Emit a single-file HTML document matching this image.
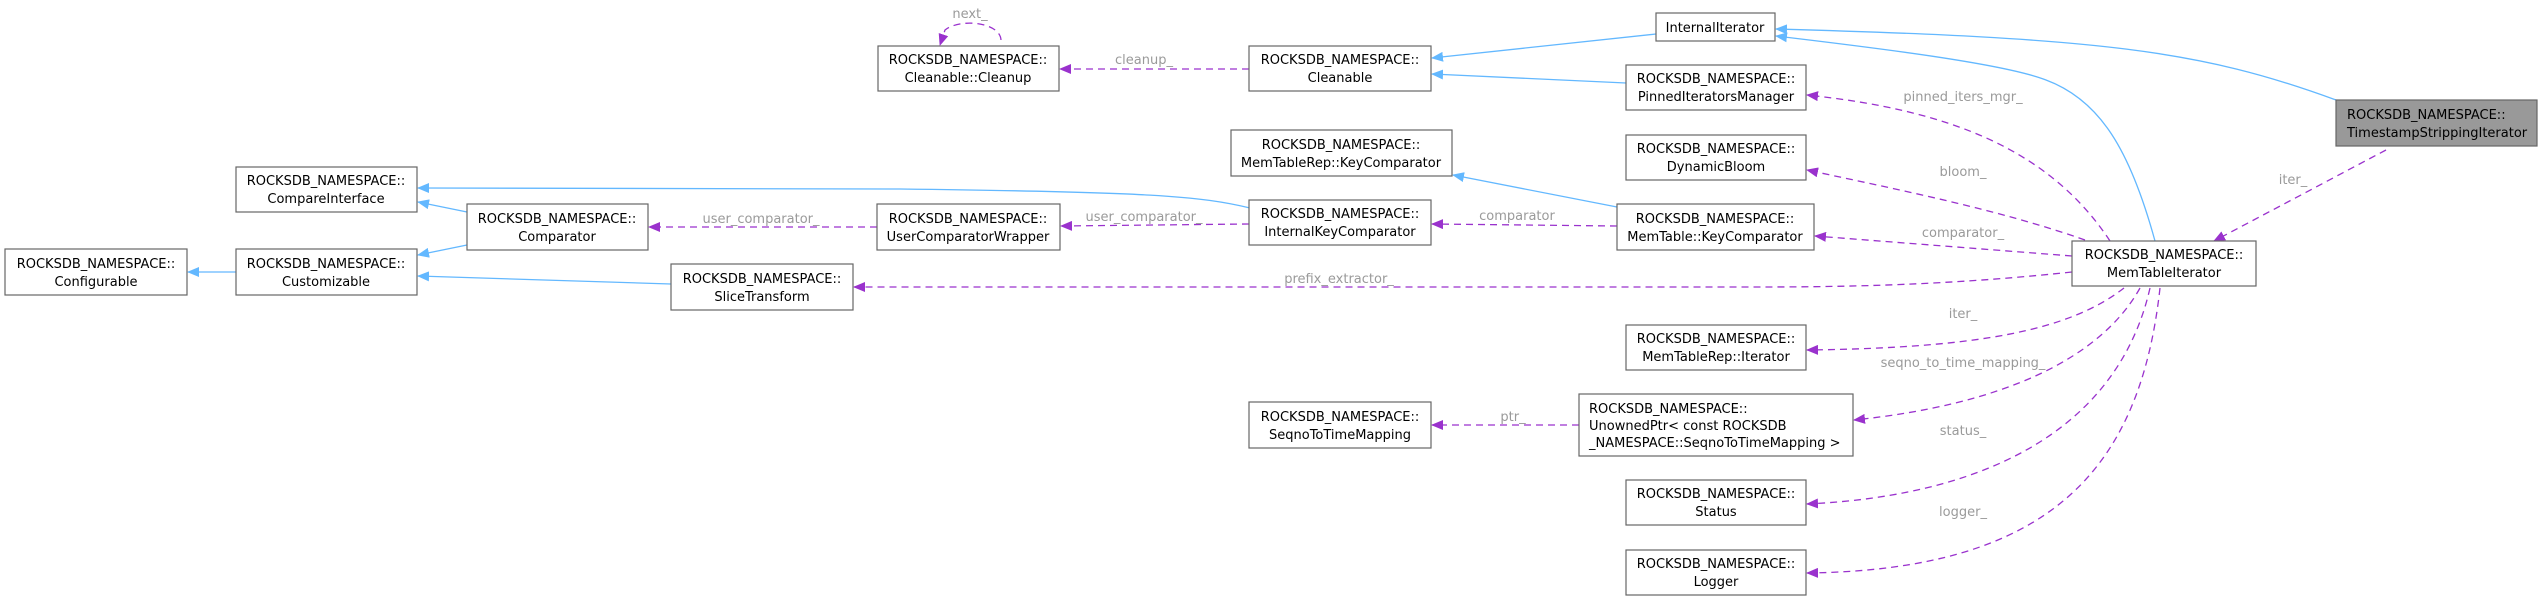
<!DOCTYPE html>
<html><head><meta charset="utf-8"><style>
html,body{margin:0;padding:0;background:#fff}
svg{display:block}
text{font-family:"DejaVu Sans","Liberation Sans",sans-serif;font-size:13px;fill:#000}
.l{fill:#9a9a9a;font-size:13px}
.b{fill:#fff;stroke:#666;stroke-width:1.2}
.i{fill:none;stroke:#63b8ff;stroke-width:1.3}
.d{fill:none;stroke:#9a32cd;stroke-width:1.3;stroke-dasharray:7,5}
</style></head><body>
<svg width="2540" height="598" viewBox="0 0 2540 598" xmlns="http://www.w3.org/2000/svg">
<defs>
<marker id="ab" markerWidth="12" markerHeight="10" refX="11" refY="5" orient="auto" markerUnits="userSpaceOnUse"><path d="M0,0 L12,5 L0,10 z" fill="#63b8ff"/></marker>
<marker id="ap" markerWidth="12" markerHeight="10" refX="11" refY="5" orient="auto" markerUnits="userSpaceOnUse"><path d="M0,0 L12,5 L0,10 z" fill="#9a32cd"/></marker>
</defs>
<!-- blue edges -->
<path class="i" marker-end="url(#ab)" d="M236,272 L188,272"/>
<path class="i" marker-end="url(#ab)" d="M467,212 L418,202"/>
<path class="i" marker-end="url(#ab)" d="M467,245 L418,255"/>
<path class="i" marker-end="url(#ab)" d="M671,284 L418,276"/>
<path class="i" marker-end="url(#ab)" d="M1250,208 C1200,196 1150,192 900,189 L418,188"/>
<path class="i" marker-end="url(#ab)" d="M1656,34 L1432,58"/>
<path class="i" marker-end="url(#ab)" d="M1626,83 L1432,74"/>
<path class="i" marker-end="url(#ab)" d="M1617,207 L1453,175"/>
<path class="i" marker-end="url(#ab)" d="M2155,241 C2130,150 2100,100 2046,80 C2000,62 1850,45 1776,36"/>
<path class="i" marker-end="url(#ab)" d="M2336,100 C2200,50 2100,38 1776,29"/>
<!-- purple edges -->
<path class="d" marker-end="url(#ap)" d="M1249,69 L1060,69"/>
<path class="d" marker-end="url(#ap)" d="M1001,40 C1000,22 960,18 945,30 L940,45"/>
<path class="d" marker-end="url(#ap)" d="M877,227 L649,227"/>
<path class="d" marker-end="url(#ap)" d="M1249,224 L1061,226"/>
<path class="d" marker-end="url(#ap)" d="M1617,226 L1432,224"/>
<path class="d" marker-end="url(#ap)" d="M2072,272 C1950,285 1850,287 1756,287 L854,287"/>
<path class="d" marker-end="url(#ap)" d="M2072,256 L1815,236"/>
<path class="d" marker-end="url(#ap)" d="M2085,240 C2000,210 1900,190 1807,170"/>
<path class="d" marker-end="url(#ap)" d="M2110,241 C2050,150 1950,110 1807,95"/>
<path class="d" marker-end="url(#ap)" d="M2386,150 L2214,241"/>
<path class="d" marker-end="url(#ap)" d="M2124,288 C2070,330 1980,348 1807,350"/>
<path class="d" marker-end="url(#ap)" d="M2140,288 C2100,360 2000,405 1854,420"/>
<path class="d" marker-end="url(#ap)" d="M1579,425 L1432,425"/>
<path class="d" marker-end="url(#ap)" d="M2150,288 C2120,420 2000,495 1807,504"/>
<path class="d" marker-end="url(#ap)" d="M2160,288 C2140,470 2050,570 1807,573"/>
<!-- labels -->
<g class="l" text-anchor="middle">
<text class="l" x="970" y="18">next_</text>
<text class="l" x="1144" y="64">cleanup_</text>
<text class="l" x="761" y="223">user_comparator_</text>
<text class="l" x="1144" y="221">user_comparator_</text>
<text class="l" x="1339" y="283">prefix_extractor_</text>
<text class="l" x="1517" y="220">comparator</text>
<text class="l" x="1963" y="101">pinned_iters_mgr_</text>
<text class="l" x="1963" y="176">bloom_</text>
<text class="l" x="1963" y="237">comparator_</text>
<text class="l" x="2293" y="184">iter_</text>
<text class="l" x="1963" y="318">iter_</text>
<text class="l" x="1963" y="367">seqno_to_time_mapping_</text>
<text class="l" x="1513" y="421">ptr_</text>
<text class="l" x="1963" y="435">status_</text>
<text class="l" x="1963" y="516">logger_</text>
</g>
<!-- boxes -->
<g text-anchor="middle">
<rect class="b" x="5" y="249" width="182" height="46"/><text x="96" y="268">ROCKSDB_NAMESPACE::</text><text x="96" y="286">Configurable</text>
<rect class="b" x="236" y="249" width="181" height="46"/><text x="326" y="268">ROCKSDB_NAMESPACE::</text><text x="326" y="286">Customizable</text>
<rect class="b" x="236" y="167" width="181" height="45"/><text x="326" y="185">ROCKSDB_NAMESPACE::</text><text x="326" y="203">CompareInterface</text>
<rect class="b" x="467" y="204" width="181" height="46"/><text x="557" y="223">ROCKSDB_NAMESPACE::</text><text x="557" y="241">Comparator</text>
<rect class="b" x="877" y="204" width="183" height="46"/><text x="968" y="223">ROCKSDB_NAMESPACE::</text><text x="968" y="241">UserComparatorWrapper</text>
<rect class="b" x="671" y="264" width="182" height="46"/><text x="762" y="283">ROCKSDB_NAMESPACE::</text><text x="762" y="301">SliceTransform</text>
<rect class="b" x="878" y="46" width="181" height="45"/><text x="968" y="64">ROCKSDB_NAMESPACE::</text><text x="968" y="82">Cleanable::Cleanup</text>
<rect class="b" x="1249" y="46" width="182" height="45"/><text x="1340" y="64">ROCKSDB_NAMESPACE::</text><text x="1340" y="82">Cleanable</text>
<rect class="b" x="1231" y="130" width="221" height="46"/><text x="1341" y="149">ROCKSDB_NAMESPACE::</text><text x="1341" y="167">MemTableRep::KeyComparator</text>
<rect class="b" x="1249" y="200" width="182" height="45"/><text x="1340" y="218">ROCKSDB_NAMESPACE::</text><text x="1340" y="236">InternalKeyComparator</text>
<rect class="b" x="1249" y="402" width="182" height="46"/><text x="1340" y="421">ROCKSDB_NAMESPACE::</text><text x="1340" y="439">SeqnoToTimeMapping</text>
<rect class="b" x="1656" y="13" width="119" height="28"/><text x="1715" y="32">InternalIterator</text>
<rect class="b" x="1626" y="65" width="180" height="45"/><text x="1716" y="83">ROCKSDB_NAMESPACE::</text><text x="1716" y="101">PinnedIteratorsManager</text>
<rect class="b" x="1626" y="135" width="180" height="45"/><text x="1716" y="153">ROCKSDB_NAMESPACE::</text><text x="1716" y="171">DynamicBloom</text>
<rect class="b" x="1617" y="204" width="197" height="46"/><text x="1715" y="223">ROCKSDB_NAMESPACE::</text><text x="1715" y="241">MemTable::KeyComparator</text>
<rect class="b" x="1626" y="325" width="180" height="45"/><text x="1716" y="343">ROCKSDB_NAMESPACE::</text><text x="1716" y="361">MemTableRep::Iterator</text>
<rect class="b" x="1579" y="394" width="274" height="62"/>
<text x="1589" y="413" text-anchor="start">ROCKSDB_NAMESPACE::</text><text x="1589" y="430" text-anchor="start">UnownedPtr&lt; const ROCKSDB</text><text x="1589" y="447" text-anchor="start">_NAMESPACE::SeqnoToTimeMapping &gt;</text>
<rect class="b" x="1626" y="480" width="180" height="45"/><text x="1716" y="498">ROCKSDB_NAMESPACE::</text><text x="1716" y="516">Status</text>
<rect class="b" x="1626" y="550" width="180" height="45"/><text x="1716" y="568">ROCKSDB_NAMESPACE::</text><text x="1716" y="586">Logger</text>
<rect class="b" x="2072" y="241" width="184" height="45"/><text x="2164" y="259">ROCKSDB_NAMESPACE::</text><text x="2164" y="277">MemTableIterator</text>
<rect x="2336" y="100" width="201" height="46" fill="#999" stroke="#666" stroke-width="1.2"/><text x="2347" y="119" text-anchor="start">ROCKSDB_NAMESPACE::</text><text x="2347" y="137" text-anchor="start">TimestampStrippingIterator</text>
</g>
</svg>
</body></html>
